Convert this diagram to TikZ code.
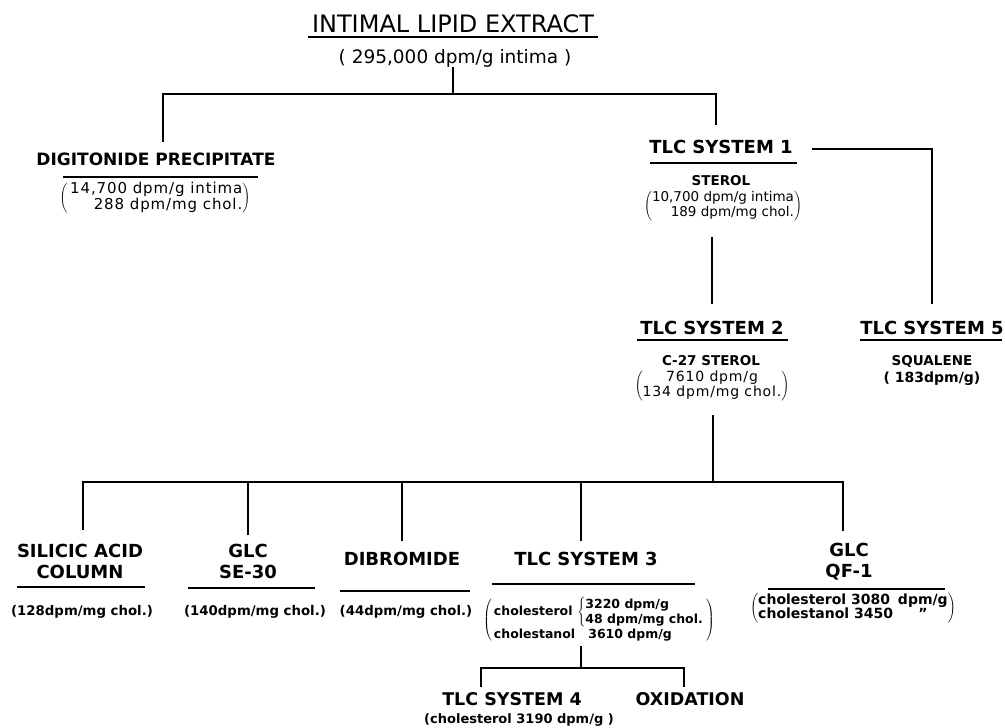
\documentclass[tikz,border=0pt]{standalone}
\usepackage{fontspec}
\setmainfont{DejaVu Sans}
\newfontfamily\valfont{DejaVu Sans}[LetterSpace=6]
\tikzset{
  head/.style={anchor=base, font=\bfseries\fontsize{18}{21}\selectfont},
  sub/.style={anchor=base, font=\bfseries\fontsize{13.5}{16}\selectfont},
  val/.style={anchor=base, font=\bfseries\fontsize{13.3}{16}\selectfont},
  link/.style={line width=2.2pt},
  rule/.style={line width=1.5pt}
}
\begin{document}
\begin{tikzpicture}[x=1pt, y=-1pt, align=center, inner sep=0pt]
  \useasboundingbox (0,0) rectangle (1005,728);
  % extract
  \node (ext) at (453,32) [anchor=base, font=\fontsize{24}{28}\selectfont] {INTIMAL LIPID EXTRACT};
  \node (extval) at (455,63) [anchor=base, font=\fontsize{18.5}{22}\selectfont] {( 295,000 dpm/g intima )};
  \coordinate (top) at (453,94);
  % first split
  \node (digit) at (156,165) [head, font=\bfseries\fontsize{17}{20}\selectfont] {DIGITONIDE PRECIPITATE};
  \node (digitval) at (155,198) [font={\valfont\fontsize{15}{14}\selectfont}] {$\left(\begin{tabular}{@{\,}r@{}}14,700 dpm/g intima\\288 dpm/mg chol.\end{tabular}\right)$};
  \node (tlc1) at (721,153) [head] {TLC SYSTEM 1};
  \node (sterol) at (721,185) [sub] {STEROL};
  \node (tlc1val) at (723,206) [font=\fontsize{13.5}{15}\selectfont] {$\left(\begin{tabular}{@{}r@{}}10,700 dpm/g intima\\189 dpm/mg chol.\end{tabular}\right)$};
  \node (tlc2) at (712,334) [head] {TLC SYSTEM 2};
  \node (c27) at (711,365) [sub] {C-27 STEROL};
  \node (tlc2val) at (712,386) [font={\valfont\fontsize{14}{15}\selectfont}] {$\left(\begin{tabular}{@{}c@{}}7610 dpm/g\\134 dpm/mg chol.\end{tabular}\right)$};
  \node (tlc5) at (932,334) [head] {TLC SYSTEM 5};
  \node (squal) at (932,365) [sub] {SQUALENE};
  \node (tlc5val) at (932,382) [val, font=\bfseries\fontsize{14}{16}\selectfont] {( 183dpm/g)};
  \coordinate (mid) at (713,482);
  % second split
  \node (silicic) at (80,561) [head, anchor=center] {SILICIC ACID\\COLUMN};
  \node (silval) at (82,615) [val] {(128dpm/mg chol.)};
  \node (glcse) at (248,561) [head, anchor=center] {GLC\\SE-30};
  \node (seval) at (255,615) [val] {(140dpm/mg chol.)};
  \node (dibrom) at (402,565) [head] {DIBROMIDE};
  \node (dibval) at (406,615) [val] {(44dpm/mg chol.)};
  \node (tlc3) at (586,565) [head] {TLC SYSTEM 3};
  \node (tlc3val) at (599,620) [font=\bfseries\fontsize{12.5}{15}\selectfont] {$\left(\begin{tabular}{@{\,}l@{\,}l@{\,}}cholesterol & $\left\{\begin{tabular}{@{}l@{}}3220 dpm/g\\48 dpm/mg chol.\end{tabular}\right.$\\[2pt]cholestanol & \hspace{11pt}3610 dpm/g\end{tabular}\right)$};
  \node (glcqf) at (849,562) [head, anchor=center] {GLC\\QF-1};
  \node (qfval) at (853,608) [font=\bfseries\fontsize{14}{13}\selectfont] {$\left(\begin{tabular}{@{}l@{ }c@{}}cholesterol 3080 & dpm/g\\cholestanol 3450 & "\end{tabular}\right)$};
  \coordinate (low) at (581,668);
  \node (tlc4) at (512,705) [head, font=\bfseries\fontsize{17.5}{20}\selectfont] {TLC SYSTEM 4};
  \node (tlc4val) at (519,723) [val, font=\bfseries\fontsize{13}{15}\selectfont] {(cholesterol 3190 dpm/g )};
  \node (oxid) at (690,705) [head, font=\bfseries\fontsize{17.5}{20}\selectfont] {OXIDATION};
  % underlines
  \foreach \xa/\xb/\yy in {308/598/37, 63/258/177, 650/797/163, 637/788/340, 860/1002/340,
      17/145/587, 188/315/588, 340/470/591, 492/695/584, 768/945/589}
    \draw[rule] (\xa,\yy) -- (\xb,\yy);
  % connectors
  \draw[link] (extval.south -| top) -- (top);
  \draw[link, shorten <=10.6pt, shorten >=14pt] ([xshift=7pt]digit.north) |- (top) -| ([xshift=-5pt]tlc1.north);
  \draw[link, shorten >=16pt] ([xshift=19pt, yshift=-2.6pt]tlc1.east) -| (tlc5.north);
  \draw[link, shorten <=16pt, shorten >=16pt] (tlc1val.south -| tlc2.north) -- (tlc2.north);
  \draw[link, shorten <=14pt] (tlc2val.south -| mid) -- (mid);
  \draw[link, shorten <=13pt, shorten >=12pt] ([xshift=3pt]silicic.north) |- (mid) -| ([xshift=-6pt]glcqf.north);
  \draw[link, shorten <=8pt] (glcse.north) -- (glcse.north |- mid);
  \draw[link, shorten <=10pt] (dibrom.north) -- (dibrom.north |- mid);
  \draw[link, shorten <=10pt] ([xshift=-5pt]tlc3.north) |- (mid);
  \draw[link, shorten <=3pt] (tlc3val.south -| low) -- (low);
  \draw[link, shorten <=5pt, shorten >=5pt] ([xshift=-31pt]tlc4.north) |- (low) -| ([xshift=-6pt]oxid.north);
\end{tikzpicture}
\end{document}
